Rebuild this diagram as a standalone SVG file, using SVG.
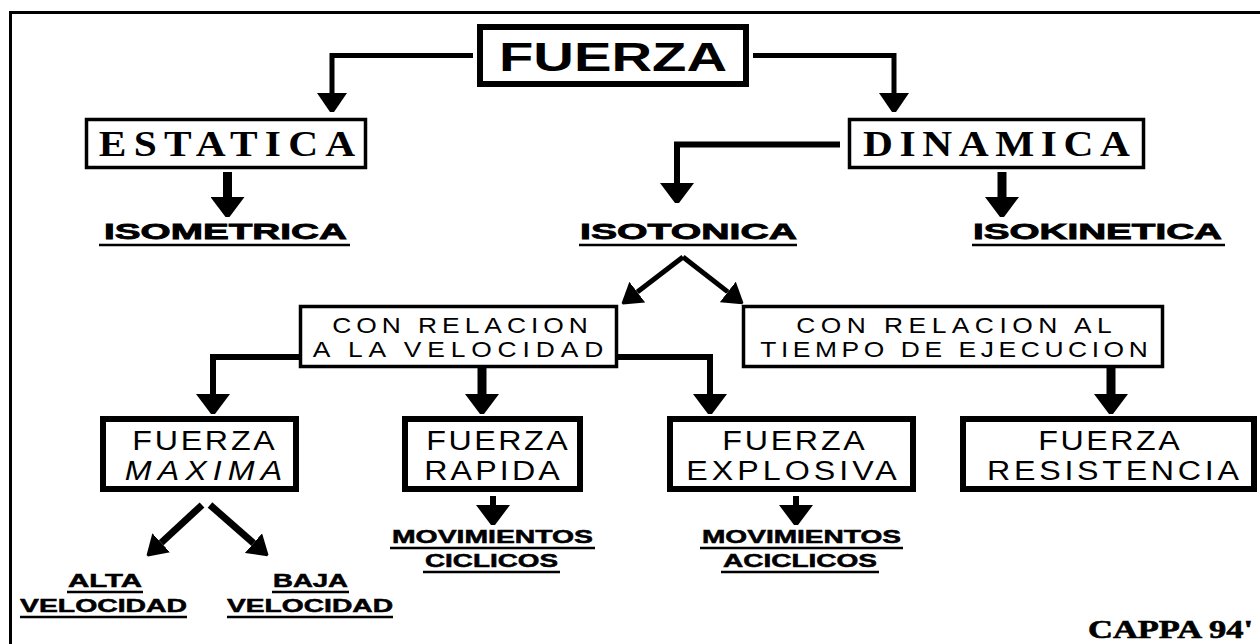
<svg xmlns="http://www.w3.org/2000/svg" width="1260" height="644" viewBox="0 0 1260 644">
<style>
.bg{fill:#fff}
.frame{fill:none;stroke:#000;stroke-width:3}
.b6{fill:#fff;stroke:#000;stroke-width:6}
.b3{fill:#fff;stroke:#000;stroke-width:3.5}
.big{font-family:"Liberation Sans",Arial,sans-serif;font-weight:bold;font-size:40px}
.serif{font-family:"Liberation Serif","Times New Roman",serif;font-weight:bold;font-size:36px}
.hv{font-family:"Liberation Sans",Arial,sans-serif;font-weight:bold;font-size:22px;stroke:#000;stroke-width:0.8}
.rel{font-family:"Liberation Sans",Arial,sans-serif;font-size:22px}
.fz{font-family:"Liberation Sans",Arial,sans-serif;font-size:28px}
.sm{font-family:"Liberation Sans",Arial,sans-serif;font-weight:bold;font-size:18px;stroke:#000;stroke-width:0.5}
.cap{font-family:"Liberation Serif","Times New Roman",serif;font-weight:bold;font-size:25px;stroke:#000;stroke-width:0.6}
text{fill:#000;text-anchor:middle}
.ul{stroke:#000;stroke-width:2.5}
.c{fill:none;stroke:#000;stroke-linejoin:miter}
</style>
<defs>
<marker id="a1" markerUnits="userSpaceOnUse" markerWidth="20" markerHeight="30" viewBox="0 0 20 30" refX="0" refY="15" orient="auto"><path d="M0,0 L19,13 L19,17 L0,30 Z" fill="#000"/></marker>
<marker id="a2" markerUnits="userSpaceOnUse" markerWidth="22" markerHeight="34" viewBox="0 0 22 34" refX="0" refY="17" orient="auto"><path d="M0,0 L20,15 L20,19 L0,34 Z" fill="#000"/></marker>
<marker id="a3" markerUnits="userSpaceOnUse" markerWidth="20" markerHeight="26" viewBox="0 0 20 26" refX="0" refY="13" orient="auto"><path d="M0,0 L19,12 L19,14 L0,26 Z" fill="#000"/></marker>
</defs>
<rect class="bg" x="0" y="0" width="1260" height="644"/>
<path class="frame" d="M10.5,644 V12.5 H1260"/>

<g id="connectors">
<path class="c" stroke-width="5" d="M473,55.5 H332 V93" marker-end="url(#a1)"/>
<path class="c" stroke-width="5" d="M753,55.5 H894 V93" marker-end="url(#a1)"/>
<path class="c" stroke-width="9" d="M227.5,172 V197" marker-end="url(#a2)"/>
<path class="c" stroke-width="6" d="M840,144.5 H677 V183" marker-end="url(#a2)"/>
<path class="c" stroke-width="9" d="M1002,172 V197" marker-end="url(#a2)"/>
<path class="c" stroke-width="5" d="M683,257 L637.3,292.1" marker-end="url(#a3)"/>
<path class="c" stroke-width="5" d="M683,257 L727.8,291.9" marker-end="url(#a3)"/>
<path class="c" stroke-width="6" d="M300,357 H213 V394" marker-end="url(#a2)"/>
<path class="c" stroke-width="9" d="M482,368 V394" marker-end="url(#a2)"/>
<path class="c" stroke-width="6" d="M618,357 H710 V394" marker-end="url(#a2)"/>
<path class="c" stroke-width="9" d="M1111,368 V394" marker-end="url(#a2)"/>
<path class="c" stroke-width="6" d="M493,496 V505" marker-end="url(#a2)"/>
<path class="c" stroke-width="6" d="M796,496 V505" marker-end="url(#a2)"/>
<path class="c" stroke-width="7" d="M202,505 L161.2,542.8" marker-end="url(#a3)"/>
<path class="c" stroke-width="7" d="M210,505 L253.5,543.1" marker-end="url(#a3)"/>
</g>

<g id="fuerza">
<rect class="b6" x="480" y="27" width="266" height="57"/>
<text class="big" x="613" y="71" textLength="228" lengthAdjust="spacingAndGlyphs">FUERZA</text>
</g>
<g id="estatica">
<rect class="b3" x="86.5" y="119.5" width="279" height="48"/>
<text class="serif" transform="translate(227,156) scale(1.15,1)" textLength="223" lengthAdjust="spacing">ESTATICA</text>
</g>
<g id="dinamica">
<rect class="b3" x="849.5" y="119.5" width="294" height="48"/>
<text class="serif" transform="translate(996.5,156) scale(1.15,1)" textLength="232" lengthAdjust="spacing">DINAMICA</text>
</g>
<g id="isometrica">
<text class="hv" x="225.5" y="239" textLength="243" lengthAdjust="spacingAndGlyphs">ISOMETRICA</text>
<line class="ul" x1="99" y1="245" x2="350" y2="245"/>
</g>
<g id="isotonica">
<text class="hv" x="688.5" y="239" textLength="217" lengthAdjust="spacingAndGlyphs">ISOTONICA</text>
<line class="ul" x1="579" y1="245" x2="797" y2="245"/>
</g>
<g id="isokinetica">
<text class="hv" x="1097.5" y="239" textLength="249" lengthAdjust="spacingAndGlyphs">ISOKINETICA</text>
<line class="ul" x1="972" y1="245" x2="1225" y2="245"/>
</g>
<g id="rel-velocidad">
<rect class="b3" x="300.5" y="306.5" width="316" height="60"/>
<text class="rel" transform="translate(460,333) scale(1.2,1)" textLength="213" lengthAdjust="spacing">CON RELACION</text>
<text class="rel" transform="translate(458,357) scale(1.2,1)" textLength="242" lengthAdjust="spacing">A LA VELOCIDAD</text>
</g>
<g id="rel-tiempo">
<rect class="b3" x="743.5" y="306.5" width="419" height="60"/>
<text class="rel" transform="translate(954,333) scale(1.2,1)" textLength="263" lengthAdjust="spacing">CON RELACION AL</text>
<text class="rel" transform="translate(954,357) scale(1.2,1)" textLength="323" lengthAdjust="spacing">TIEMPO DE EJECUCION</text>
</g>
<g id="fuerza-maxima">
<rect class="b6" x="103" y="419" width="193" height="70"/>
<text class="fz" transform="translate(203.5,450) scale(1.15,1)" textLength="124" lengthAdjust="spacing">FUERZA</text>
<text class="fz" transform="translate(203.5,480) scale(1.15,1)" textLength="137" lengthAdjust="spacing" font-style="italic">MAXIMA</text>
</g>
<g id="fuerza-rapida">
<rect class="b6" x="405" y="419" width="175" height="70"/>
<text class="fz" transform="translate(497,450) scale(1.15,1)" textLength="123" lengthAdjust="spacing">FUERZA</text>
<text class="fz" transform="translate(492,480) scale(1.15,1)" textLength="118" lengthAdjust="spacing">RAPIDA</text>
</g>
<g id="fuerza-explosiva">
<rect class="b6" x="670" y="419" width="243" height="70"/>
<text class="fz" transform="translate(793.5,450) scale(1.15,1)" textLength="124" lengthAdjust="spacing">FUERZA</text>
<text class="fz" transform="translate(791.5,480) scale(1.15,1)" textLength="183" lengthAdjust="spacing">EXPLOSIVA</text>
</g>
<g id="fuerza-resistencia">
<rect class="b6" x="963" y="419" width="291" height="70"/>
<text class="fz" transform="translate(1109,450) scale(1.15,1)" textLength="123" lengthAdjust="spacing">FUERZA</text>
<text class="fz" transform="translate(1113,480) scale(1.15,1)" textLength="219" lengthAdjust="spacing">RESISTENCIA</text>
</g>
<g id="mov-ciclicos">
<text class="sm" x="492.5" y="543" textLength="201" lengthAdjust="spacingAndGlyphs">MOVIMIENTOS</text>
<line class="ul" x1="390" y1="548" x2="595" y2="548"/>
<text class="sm" x="491.5" y="567" textLength="133" lengthAdjust="spacingAndGlyphs">CICLICOS</text>
<line class="ul" x1="423" y1="572" x2="560" y2="572"/>
</g>
<g id="mov-aciclicos">
<text class="sm" x="801.5" y="543" textLength="199" lengthAdjust="spacingAndGlyphs">MOVIMIENTOS</text>
<line class="ul" x1="700" y1="548" x2="903" y2="548"/>
<text class="sm" x="800" y="567" textLength="154" lengthAdjust="spacingAndGlyphs">ACICLICOS</text>
<line class="ul" x1="721" y1="572" x2="879" y2="572"/>
</g>
<g id="alta-velocidad">
<text class="sm" x="105" y="587" textLength="74" lengthAdjust="spacingAndGlyphs">ALTA</text>
<line class="ul" x1="67" y1="592" x2="143" y2="592"/>
<text class="sm" x="103.5" y="612" textLength="167" lengthAdjust="spacingAndGlyphs">VELOCIDAD</text>
<line class="ul" x1="20" y1="617" x2="187" y2="617"/>
</g>
<g id="baja-velocidad">
<text class="sm" x="310.5" y="587" textLength="75" lengthAdjust="spacingAndGlyphs">BAJA</text>
<line class="ul" x1="272" y1="592" x2="349" y2="592"/>
<text class="sm" x="310" y="612" textLength="166" lengthAdjust="spacingAndGlyphs">VELOCIDAD</text>
<line class="ul" x1="227" y1="617" x2="393" y2="617"/>
</g>
<g id="credit">
<text class="cap" x="1170.5" y="638" textLength="165" lengthAdjust="spacingAndGlyphs">CAPPA 94'</text>
</g>
</svg>
